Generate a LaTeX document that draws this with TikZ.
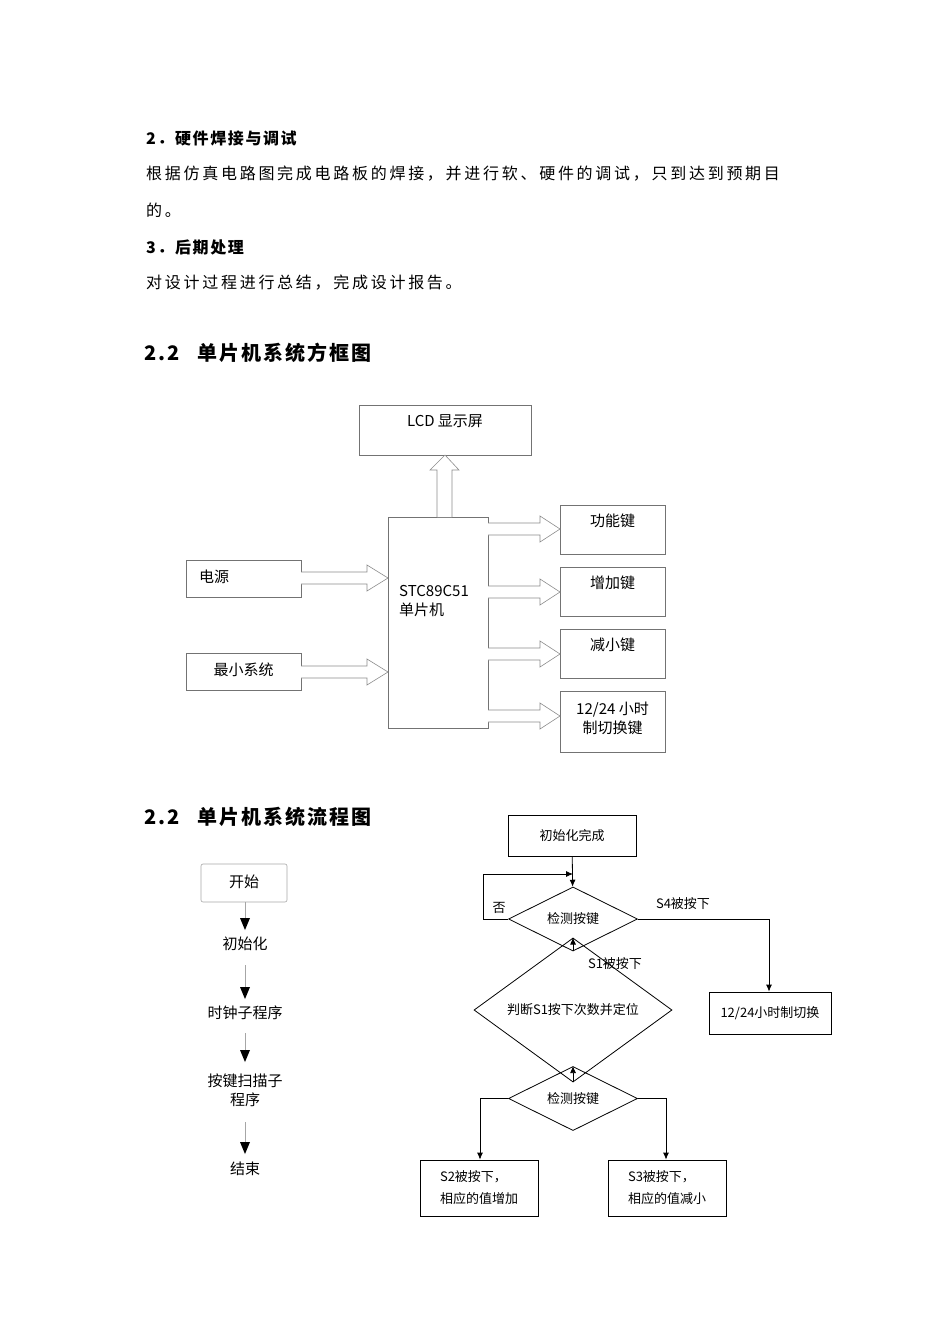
\documentclass[tikz,border=0pt]{standalone}
\usepackage{fontspec}
\setmainfont{Noto Sans CJK SC}
\newfontfamily\bodyf{Noto Sans CJK SC}[LetterSpace=17]
\newfontfamily\headf{Noto Sans CJK SC}[LetterSpace=10]
\usetikzlibrary{shapes.geometric,arrows.meta}
\begin{document}
\begin{tikzpicture}[x=1pt,y=-1pt,
  box/.style={draw=black!55,line width=0.6pt,rectangle,inner sep=0,font=\fontsize{15}{18}\selectfont},
  fbox/.style={draw=black,line width=0.8pt,rectangle,inner sep=0,font=\fontsize{13}{22}\selectfont},
  dia/.style={draw=black,line width=0.8pt,diamond,inner sep=0,font=\fontsize{13}{16}\selectfont},
  fl/.style={line width=0.8pt,-{Latex[length=7pt,width=6pt]}},
  lbl/.style={font=\fontsize{13}{16}\selectfont,inner sep=0},
  st/.style={font=\fontsize{15}{19}\selectfont,inner sep=0,align=center},
  body/.style={anchor=west,inner sep=0,font=\bodyf\fontsize{16}{18}\selectfont},
  head/.style={anchor=west,inner sep=0,font=\headf\bfseries\fontsize{16}{18}\selectfont},
  sec/.style={anchor=west,inner sep=0,font=\headf\bfseries\fontsize{20}{22}\selectfont},
  hollow/.style={draw=black!45,fill=white,line width=0.6pt},
  tri/.style={fill=black}]
\useasboundingbox (0,0) rectangle (950,1344);
% text
\node[head] (h1) at (146,138) {2．硬件焊接与调试};
\node[body] (b1) at (146,174) {根据仿真电路图完成电路板的焊接，并进行软、硬件的调试，只到达到预期目};
\node[body] (b2) at (146,210) {的。};
\node[head] (h2) at (146,247) {3．后期处理};
\node[body] (b3) at (146,283) {对设计过程进行总结，完成设计报告。};
\node[sec] (s1) at (144,353) {2.2\hspace{18pt}单片机系统方框图};
\node[sec] (s2) at (144,817) {2.2\hspace{18pt}单片机系统流程图};
% block diagram
\node[box,minimum width=172,minimum height=50] (lcd) at (445,430) {};
\node[st] at (445,421) {LCD 显示屏};
\node[box,minimum width=100,minimum height=211] (mcu) at (438,622.5) {};
\node[st,anchor=north west,align=left] at (399,585) {STC89C51\\单片机};
\foreach \n/\y/\t in {k1/529.5/功能键,k2/591.5/增加键,k3/653.5/减小键}{
  \node[box,minimum width=105,minimum height=49] (\n) at (612.5,\y) {};
  \node[st] at (612.5,\y-9) {\t};}
\node[box,minimum width=105,minimum height=61] (k4) at (612.5,721.5) {};
\node[st] at (612.5,718) {12/24 小时\\制切换键};
\node[box,minimum width=115,minimum height=37] (pw) at (243.5,578.5) {};
\node[st,anchor=west] at (199,577) {电源};
\node[box,minimum width=115,minimum height=37] (ms) at (243.5,671.5) {};
\node[st] at (243.5,670) {最小系统};
% hollow arrows
\draw[hollow] (437,517) -- (437,470) -- (430,470) -- (445,455) -- (459,470) -- (452,470) -- (452,517);
\foreach \y in {529,592,654,716}{
  \draw[hollow] (488,\y-6) -- (540,\y-6) -- (540,\y-13) -- (560,\y) -- (540,\y+13) -- (540,\y+6) -- (488,\y+6);}
\foreach \y in {578,672}{
  \draw[hollow] (301,\y-6) -- (367,\y-6) -- (367,\y-13) -- (388,\y) -- (367,\y+13) -- (367,\y+6) -- (301,\y+6);}
% left simple flow
\node[box,rounded corners=2pt,draw=black!35,minimum width=86,minimum height=38] (ks) at (244,883) {};
\node[st] at (244,882) {开始};
\node[st] (n1) at (245,944) {初始化};
\node[st] (n2) at (245,1013) {时钟子程序};
\node[st] (n3) at (245,1090) {按键扫描子\\程序};
\node[st] (n4) at (245,1169) {结束};
\foreach \a/\b/\c in {902/918/930, 965/987/999, 1033/1050/1062, 1122/1142/1154}{
  \draw[black!35,line width=0.4pt] (245,\a) -- (245,\b);
  \fill[tri] (240,\b) -- (250,\b) -- (245,\c) -- cycle;}
% right flowchart
\node[fbox,minimum width=128,minimum height=41] (init) at (572,835.5) {初始化完成};
\node[dia,minimum width=129,minimum height=48] (d1) at (573,919) {检测按键};
\node[dia,minimum width=198,minimum height=64] (d2) at (573,1010) {判断S1按下次数并定位};
\node[dia,minimum width=129,minimum height=51] (d3) at (573,1098.5) {检测按键};
\node[fbox,minimum width=122,minimum height=42] (sw) at (770,1013) {12/24小时制切换};
\node[fbox,minimum width=118,minimum height=56,align=left] (inc) at (479,1188) {S2被按下，\\相应的值增加};
\node[fbox,minimum width=118,minimum height=56,align=left] (dec) at (667,1188) {S3被按下，\\相应的值减小};
\coordinate (c0) at (573,874);
\draw[fl] (init) -- (d1);
\draw[fl] (d1.west) -- (483,919) -- (483,874) -- (c0);
\node[lbl] at (499,908) {否};
\draw[fl] (d1.east) -- (769,919) -- (sw.north -| 769,0);
\node[lbl] at (683,904) {S4被按下};
\draw[fl] (d1) -- (d2);
\node[lbl] at (615,964) {S1被按下};
\draw[fl] (d2) -- (d3);
\draw[fl] (d3.west) -- (480,1098.5) -- (inc.north -| 480,0);
\draw[fl] (d3.east) -- (666,1098.5) -- (dec.north -| 666,0);
\end{tikzpicture}
\end{document}
